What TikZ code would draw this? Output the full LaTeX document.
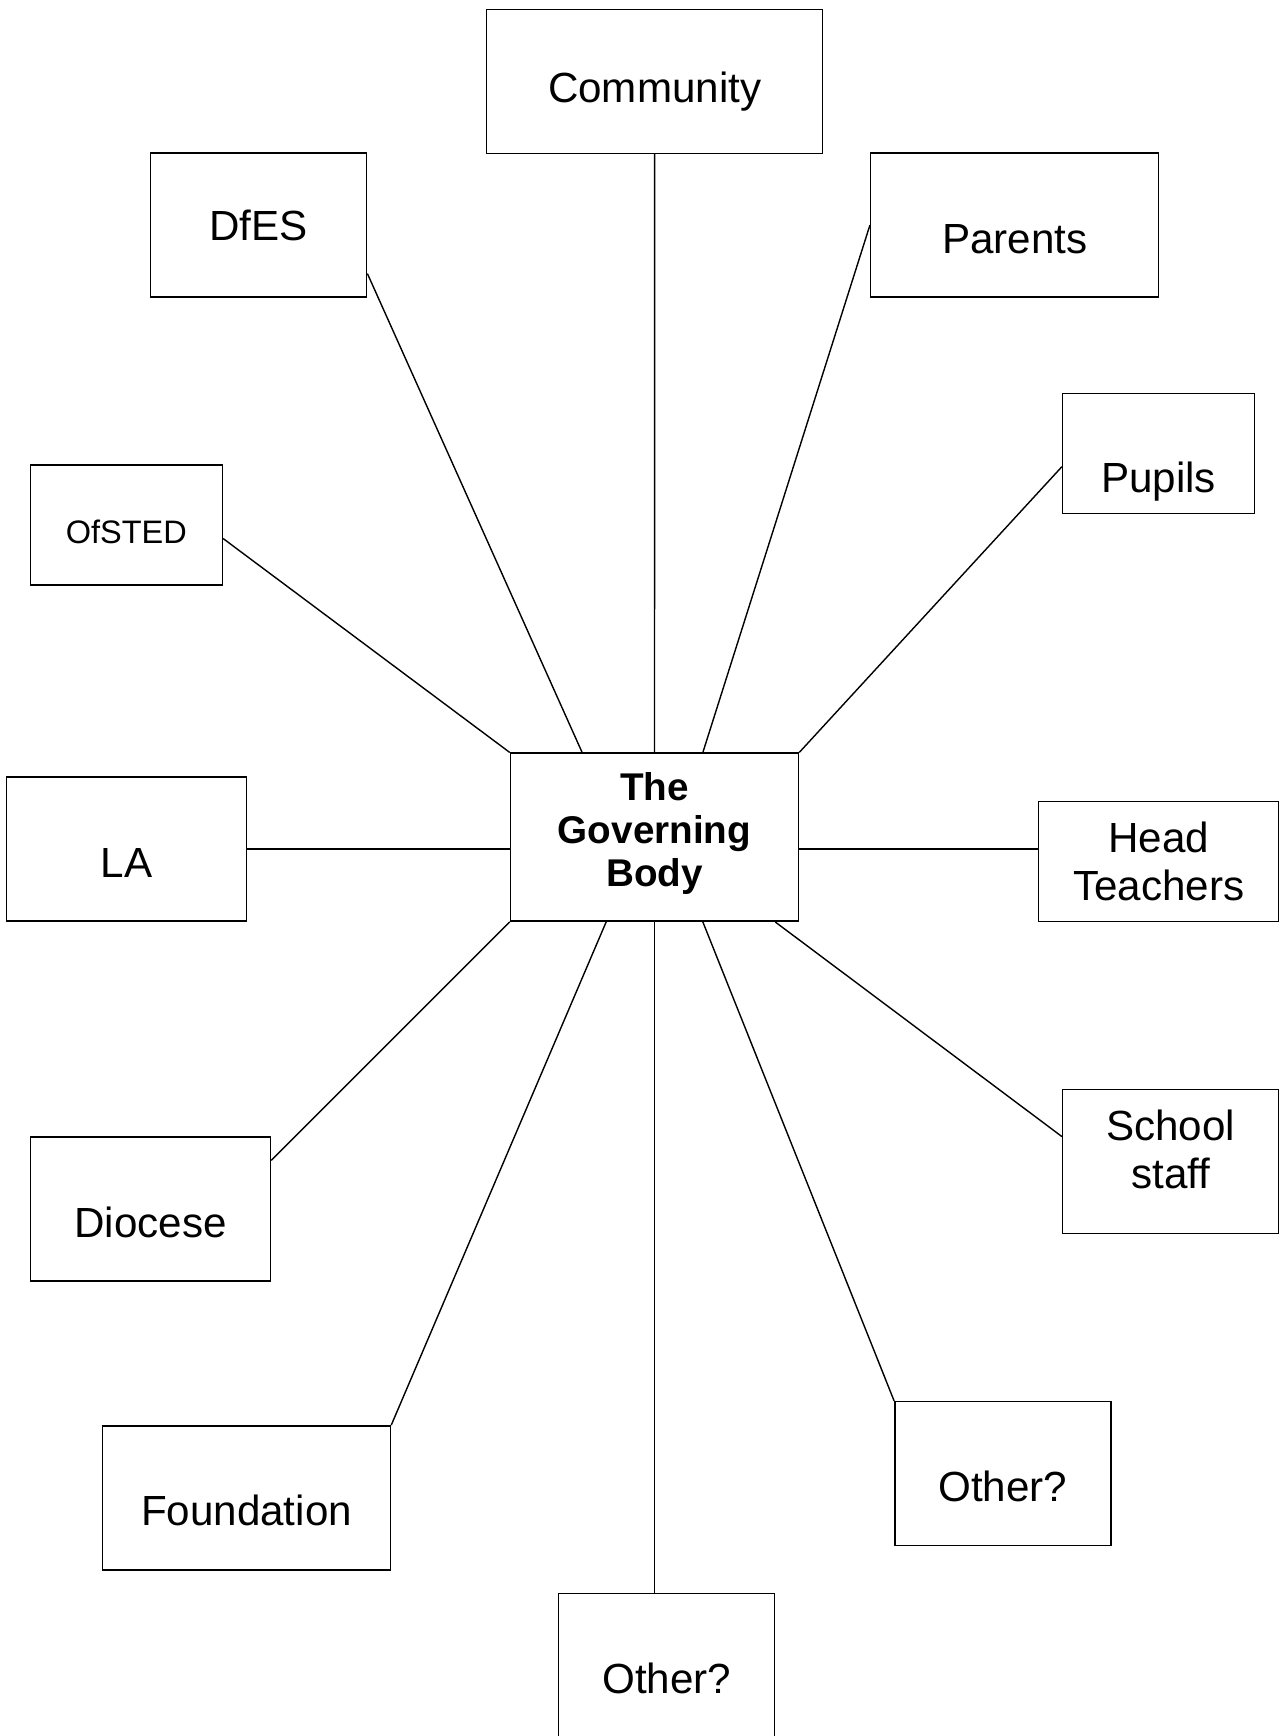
\documentclass[tikz,border=0pt]{standalone}
\usepackage{fontspec}
\setmainfont{Liberation Sans}
\usetikzlibrary{calc}
\newlength{\gbpx}
\setlength{\gbpx}{0.02cm}
\tikzset{
  party/.style n args={3}{
    draw, line width=0.85pt, inner sep=0pt, align=center,
    minimum width=#1\gbpx, minimum height=#2\gbpx,
    text height=#3\gbpx, text depth=0pt,
    font=\fontsize{24}{27.3}\selectfont},
  core/.style={font=\fontsize{22}{24.4}\selectfont\bfseries},
  small/.style={font=\fontsize{18.5}{21}\selectfont},
  tie/.style={draw, line width=0.8pt},
}

\begin{document}
\begin{tikzpicture}[x=0.02cm, y=-0.02cm]
\useasboundingbox (0,0) rectangle (1283,1736);

% the hub
\node[party={288}{168}{97.7}, core] (gb) at (654.5,837.2) {The\\Governing\\Body};

% the partners round it
\node[party={336}{144}{42.5}] (com) at (654.65,81.5) {Community};
\node[party={216}{144}{31.5}] (dfes) at (258.65,225.15) {DfES};
\node[party={288}{144}{56.5}] (par) at (1014.65,225.15) {Parents};
\node[party={192}{120}{78}] (pup) at (1158.65,453.3) {Pupils};
\node[party={192}{120}{36.3}, small] (ofs) at (126.35,525.15) {OfSTED};
\node[party={240}{144}{56}] (la) at (126.5,849.1) {LA};
\node[party={240}{120}{78.5}] (ht) at (1158.65,861.5) {Head\\Teachers};
\node[party={216}{144}{54.5}] (ss) at (1170.65,1161.3) {School\\staff};
\node[party={240}{144}{56}] (dio) at (150.5,1209) {Diocese};
\node[party={288}{144}{55.5}] (fnd) at (246.5,1497.85) {Foundation};
\node[party={216}{144}{55.5}] (othr) at (1002.9,1473.7) {Other?};
\node[party={216}{144}{56}] (othb) at (666.65,1665.3) {Other?};

% spokes
\draw[tie] (com.south) -- (gb.north);
\draw[tie] ($(dfes.south east)!0.167!(dfes.north east)$) -- ($(gb.north west)!0.25!(gb.north east)$);
\draw[tie] (par.west) -- ($(gb.north west)!0.667!(gb.north east)$);
\draw[tie] ($(pup.south west)!0.39!(pup.north west)$) -- (gb.north east);
\draw[tie] ($(ofs.south east)!0.39!(ofs.north east)$) -- (gb.north west);
\draw[tie] (la.east) -- (la.east -| gb.west);
\draw[tie] (gb.east |- la.east) -- (la.east -| ht.west);
\draw[tie] ($(gb.south west)!0.917!(gb.south east)$) -- ($(ss.south west)!0.67!(ss.north west)$);
\draw[tie] (gb.south west) -- ($(dio.south east)!0.835!(dio.north east)$);
\draw[tie] ($(gb.south west)!0.333!(gb.south east)$) -- (fnd.north east);
\draw[tie] ($(gb.south west)!0.667!(gb.south east)$) -- (othr.north west);
\draw[tie] (gb.south) -- (gb.south |- othb.north);

\end{tikzpicture}
\end{document}
